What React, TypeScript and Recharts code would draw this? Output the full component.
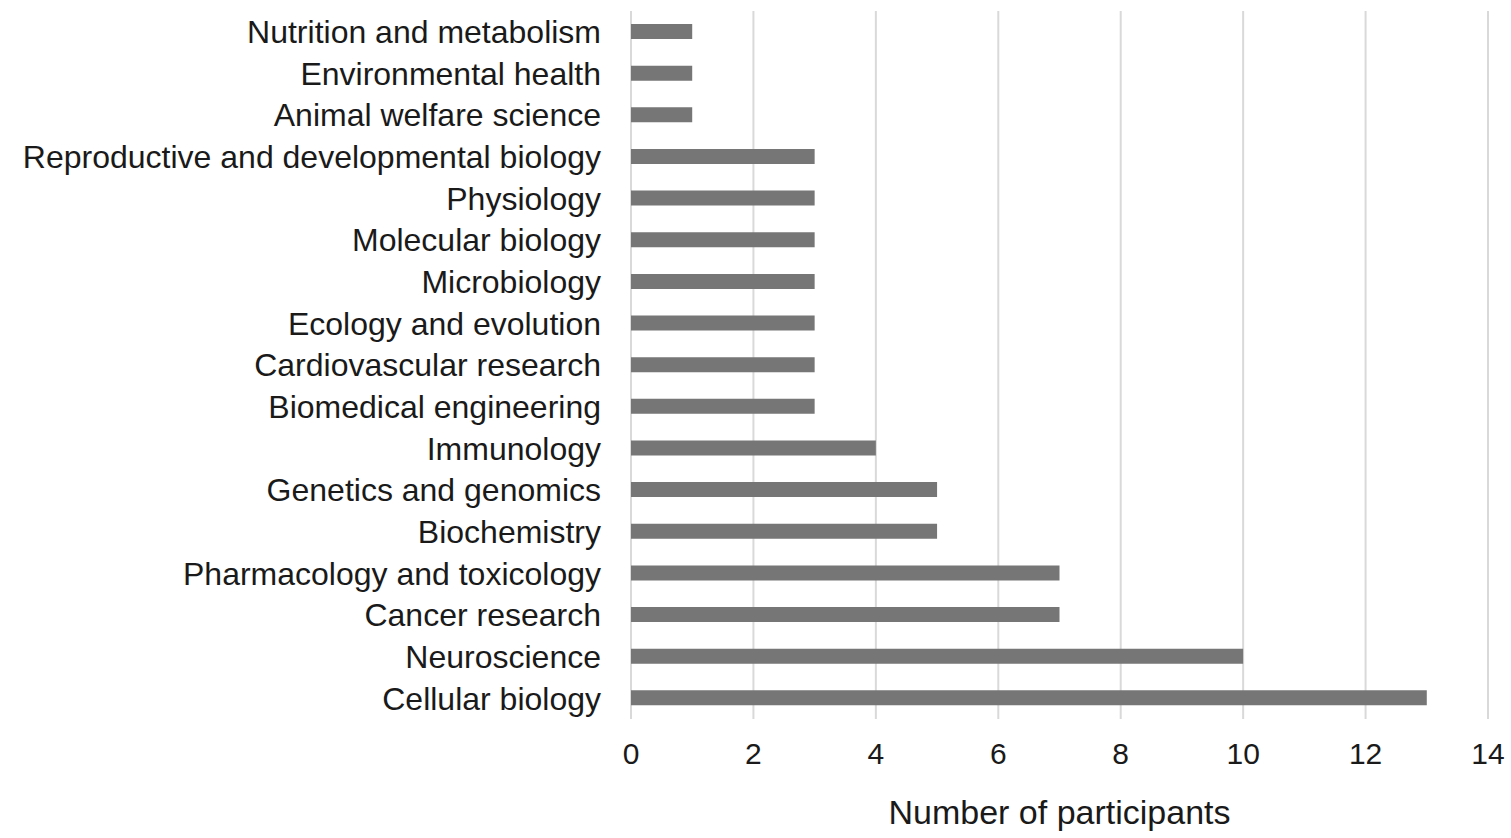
import React from 'react';
import { BarChart, Bar, XAxis, YAxis, CartesianGrid } from 'recharts';

const categories = [
  'Nutrition and metabolism',
  'Environmental health',
  'Animal welfare science',
  'Reproductive and developmental biology',
  'Physiology',
  'Molecular biology',
  'Microbiology',
  'Ecology and evolution',
  'Cardiovascular research',
  'Biomedical engineering',
  'Immunology',
  'Genetics and genomics',
  'Biochemistry',
  'Pharmacology and toxicology',
  'Cancer research',
  'Neuroscience',
  'Cellular biology',
];
const participants = [1, 1, 1, 3, 3, 3, 3, 3, 3, 3, 4, 5, 5, 7, 7, 10, 13];
const xTicks = [0, 2, 4, 6, 8, 10, 12, 14];

const data = categories.map((name, i) => ({ name, value: participants[i] }));

const font = '"Liberation Sans", Arial, sans-serif';

export default function App() {
  return (
    <div style={{ position: 'absolute', left: 0, top: 0, background: '#fff' }}>
      <BarChart
        width={1511}
        height={838}
        data={data}
        layout="vertical"
        margin={{ top: 11, right: 23, bottom: 14, left: 0 }}
        barCategoryGap={0}
      >
        <CartesianGrid horizontal={false} stroke="#d9d9d9" strokeWidth={2} />
        <XAxis
          type="number"
          domain={[0, 14]}
          ticks={xTicks}
          height={105}
          tickSize={0}
          tickMargin={24}
          axisLine={false}
          tick={{ fill: '#1a1a1a', fontSize: 30, fontFamily: font }}
          label={{
            value: 'Number of participants',
            position: 'insideBottom',
            offset: 0,
            fill: '#1a1a1a',
            fontSize: 34,
            fontFamily: font,
          }}
        />
        <YAxis
          type="category"
          dataKey="name"
          width={631}
          tickSize={0}
          tickMargin={30}
          axisLine={false}
          interval={0}
          tick={{ fill: '#1a1a1a', fontSize: 32, fontFamily: font }}
        />
        <Bar dataKey="value" fill="#767676" barSize={15} isAnimationActive={false} />
      </BarChart>
    </div>
  );
}
